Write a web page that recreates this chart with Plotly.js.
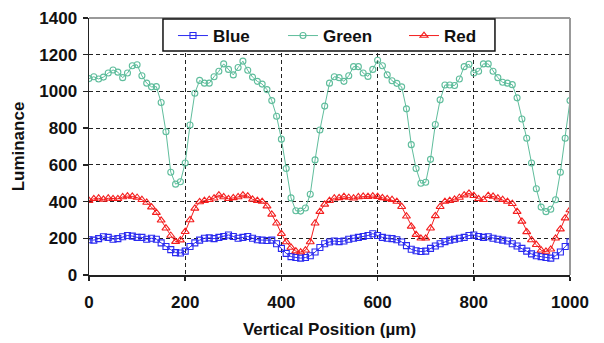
<!DOCTYPE html>
<html>
<head>
<meta charset="utf-8">
<script src="https://cdn.plot.ly/plotly-3.0.1.min.js"></script>
<style>html,body{margin:0;padding:0;background:#fff;}#chart{width:604px;height:343px;}</style>
</head>
<body>
<div id="chart"></div>
<script>
// Vertical position (µm), one sample every 10 µm
const positions = [0,10,20,30,40,50,60,70,80,90,100,110,120,130,140,150,160,170,180,190,200,210,220,230,240,250,260,270,280,290,300,310,320,330,340,350,360,370,380,390,400,410,420,430,440,450,460,470,480,490,500,510,520,530,540,550,560,570,580,590,600,610,620,630,640,650,660,670,680,690,700,710,720,730,740,750,760,770,780,790,800,810,820,830,840,850,860,870,880,890,900,910,920,930,940,950,960,970,980,990,1000];

const blueValues = [192,190,198,208,205,195,198,208,215,212,205,205,195,200,195,175,155,138,122,120,130,155,175,190,200,202,198,205,210,218,210,200,205,210,200,192,190,188,190,170,145,118,100,95,92,95,105,125,150,170,180,185,182,185,195,200,205,210,215,225,215,205,200,198,192,180,160,140,132,128,130,145,158,170,182,190,195,200,205,215,218,210,205,208,200,195,190,185,170,158,145,130,115,105,100,95,92,105,125,155,180];

const greenValues = [1070,1080,1068,1078,1100,1117,1105,1075,1100,1140,1145,1085,1045,1025,1026,940,780,560,495,508,610,817,990,1060,1045,1045,1080,1110,1150,1120,1090,1130,1165,1115,1078,1055,1040,1010,950,865,740,580,420,350,348,365,440,627,790,920,1045,1080,1075,1055,1085,1135,1135,1100,1082,1120,1170,1140,1090,1058,1044,1025,905,710,580,500,505,630,820,954,1035,1035,1032,1068,1135,1148,1100,1110,1150,1150,1110,1075,1050,1045,1037,965,850,745,610,470,370,345,358,410,560,745,950];

const redValues = [405,415,418,412,418,415,415,425,430,428,422,410,395,370,340,298,255,215,182,190,236,300,363,398,405,410,418,435,425,415,420,425,435,430,412,405,400,375,330,282,225,180,150,130,125,135,180,282,345,385,405,418,420,427,422,418,425,428,427,430,427,420,415,410,400,372,320,265,220,200,200,255,322,372,400,405,412,422,435,445,432,415,410,432,428,418,410,400,388,345,292,235,191,165,135,128,140,200,250,310,354];

const seriesNames = ["Blue", "Green", "Red"];
const xTickValues = [0,200,400,600,800,1000];
const yTickValues = [0,200,400,600,800,1000,1200,1400];

const FONT = "Liberation Sans, Arial, sans-serif";
const TEXT = "#111";

const traces = [
  {x: positions, y: blueValues, name: seriesNames[0], type: "scatter", mode: "lines+markers", legend: "legend",
   line: {color: "#2a2af0", width: 1}, marker: {symbol: "square-open", size: 6, color: "#2a2af0", line: {width: 1.1}}},
  {x: positions, y: greenValues, name: seriesNames[1], type: "scatter", mode: "lines+markers", legend: "legend2",
   line: {color: "#5fbd9c", width: 1}, marker: {symbol: "circle-open", size: 6, color: "#5fbd9c", line: {width: 1.1}}},
  {x: positions, y: redValues, name: seriesNames[2], type: "scatter", mode: "lines+markers", legend: "legend3",
   line: {color: "#f41e1e", width: 1}, marker: {symbol: "triangle-up-open", size: 7, color: "#f41e1e", line: {width: 1.1}}}
];

function legendAt(x) {
  return {
    orientation: "h", x: x, xanchor: "left", y: 1.0, yanchor: "top",
    bgcolor: "rgba(0,0,0,0)", borderwidth: 0,
    font: {family: FONT, size: 17, color: TEXT, weight: "bold"}, itemwidth: 30
  };
}

const layout = {
  width: 604, height: 343,
  margin: {l: 89, r: 34, t: 18, b: 68, pad: 0},
  paper_bgcolor: "#fff", plot_bgcolor: "#fff",
  font: {family: FONT, size: 17, color: TEXT, weight: "bold"},
  showlegend: true,
  legend: legendAt(0.1746),
  legend2: legendAt(0.4033),
  legend3: legendAt(0.6549),
  xaxis: {
    range: [0, 1000], tickvals: xTickValues, ticktext: xTickValues.map(String),
    tickfont: {family: FONT, size: 17, color: TEXT, weight: "bold"},
    showline: true, linecolor: "#222", linewidth: 1.5,
    ticks: "outside", ticklen: 4, tickcolor: "#222", tickwidth: 1.5,
    ticklabelstandoff: 7,
    showgrid: true, gridcolor: "#222", gridwidth: 1.2, griddash: "4px,3px",
    zeroline: false,
    title: {text: "Vertical Position (µm)", font: {family: FONT, size: 17, color: TEXT, weight: "bold"}, standoff: 12}
  },
  yaxis: {
    range: [0, 1400], tickvals: yTickValues, ticktext: yTickValues.map(String),
    tickfont: {family: FONT, size: 17, color: TEXT, weight: "bold"},
    showline: true, linecolor: "#222", linewidth: 1.5,
    ticks: "outside", ticklen: 5, tickcolor: "#222", tickwidth: 1.5,
    ticklabelstandoff: 2,
    showgrid: true, gridcolor: "#222", gridwidth: 1.2, griddash: "4px,3px",
    zeroline: false,
    title: {text: "Luminance", font: {family: FONT, size: 17, color: TEXT, weight: "bold"}, standoff: 10}
  },
  shapes: [
    {type: "line", xref: "paper", yref: "paper", x0: 0, x1: 1, y0: 1, y1: 1, line: {color: "#999", width: 2}, layer: "above"},
    {type: "line", xref: "paper", yref: "paper", x0: 1, x1: 1, y0: 0, y1: 1, line: {color: "#999", width: 2}, layer: "above"},
    // legend frame
    {type: "rect", xref: "paper", yref: "paper", x0: 0.1538, x1: 0.844, y0: 0.8716, y1: 0.996,
     fillcolor: "#fff", line: {color: "#111", width: 1.5}, layer: "above"}
  ]
};

Plotly.newPlot("chart", traces, layout, {displayModeBar: false, staticPlot: true});
</script>
</body>
</html>
